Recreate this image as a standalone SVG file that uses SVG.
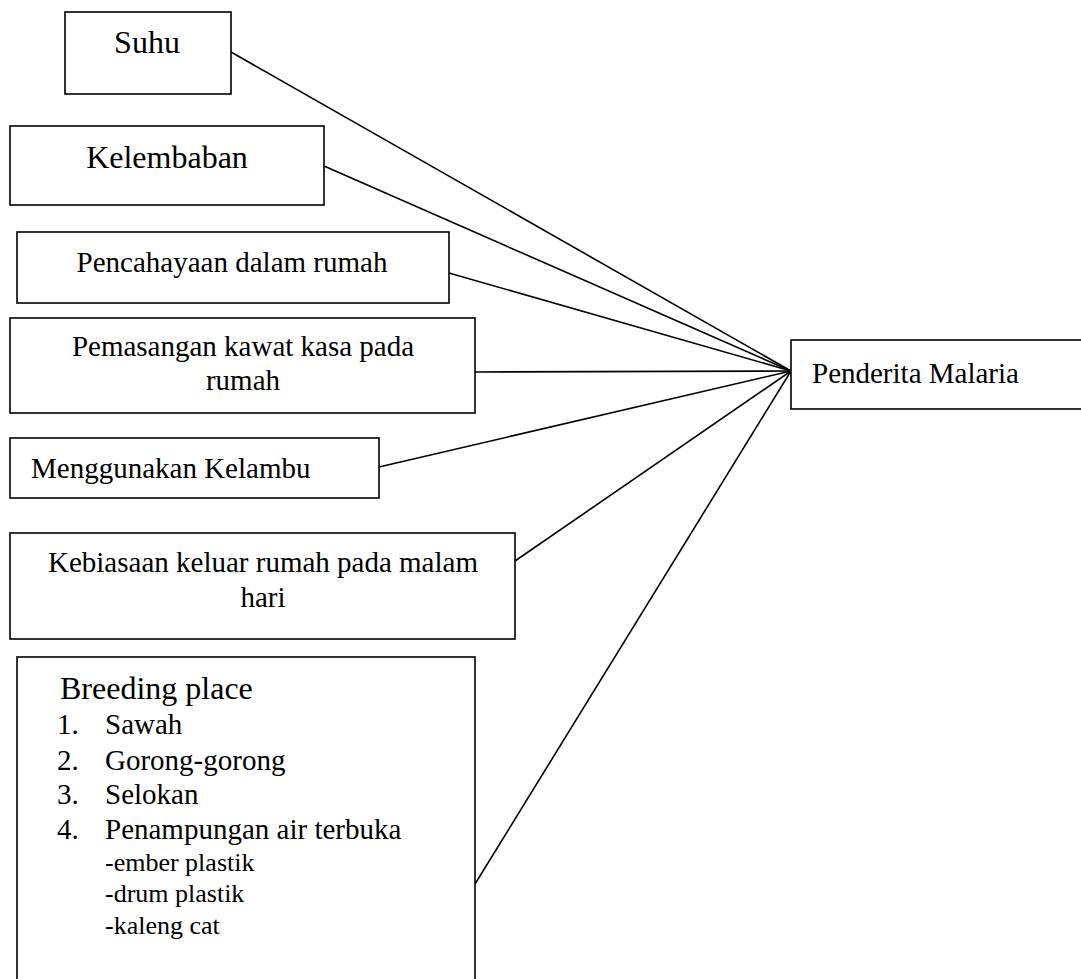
<svg xmlns="http://www.w3.org/2000/svg" width="1081" height="979" viewBox="0 0 1081 979">
<style>
.box{fill:#fff;stroke:#000;stroke-width:1.6}
.t{font-family:"Liberation Serif","Times New Roman",serif;font-size:29px;fill:#000}
.tl{font-family:"Liberation Serif","Times New Roman",serif;font-size:32px;fill:#000}
.ts{font-family:"Liberation Serif","Times New Roman",serif;font-size:26px;fill:#000}
.c{stroke:#000;stroke-width:1.6;fill:none}
</style>
<rect width="1081" height="979" fill="#fff"/>
<g id="connectors">
<line class="c" x1="231" y1="52" x2="791" y2="371"/>
<line class="c" x1="324" y1="166" x2="791" y2="371"/>
<line class="c" x1="449" y1="273" x2="791" y2="371"/>
<line class="c" x1="475" y1="372" x2="791" y2="371"/>
<line class="c" x1="379" y1="467" x2="791" y2="371"/>
<line class="c" x1="515" y1="561" x2="791" y2="371"/>
<line class="c" x1="475" y1="884" x2="791" y2="371"/>
</g>
<g id="suhu">
<rect class="box" x="65" y="12" width="166" height="82"/>
<text class="tl" x="147" y="53" text-anchor="middle">Suhu</text>
</g>
<g id="kelembaban">
<rect class="box" x="10" y="126" width="314" height="79"/>
<text class="tl" x="167" y="168" text-anchor="middle">Kelembaban</text>
</g>
<g id="pencahayaan">
<rect class="box" x="17" y="232" width="432" height="71"/>
<text class="t" x="232" y="272" text-anchor="middle">Pencahayaan dalam rumah</text>
</g>
<g id="pemasangan">
<rect class="box" x="10" y="318" width="465" height="95"/>
<text class="t" x="243" y="356" text-anchor="middle">Pemasangan kawat kasa pada</text>
<text class="t" x="243" y="390" text-anchor="middle">rumah</text>
</g>
<g id="kelambu">
<rect class="box" x="10" y="438" width="369" height="60"/>
<text class="t" x="31" y="478">Menggunakan Kelambu</text>
</g>
<g id="kebiasaan">
<rect class="box" x="10" y="533" width="505" height="106"/>
<text class="t" x="263" y="572" text-anchor="middle">Kebiasaan keluar rumah pada malam</text>
<text class="t" x="263" y="607" text-anchor="middle">hari</text>
</g>
<g id="breeding">
<rect class="box" x="17" y="657" width="458" height="340"/>
<text class="tl" x="60" y="699">Breeding place</text>
<text class="t" x="57" y="734">1.</text><text class="t" x="105" y="734">Sawah</text>
<text class="t" x="57" y="770">2.</text><text class="t" x="105" y="770">Gorong-gorong</text>
<text class="t" x="57" y="804">3.</text><text class="t" x="105" y="804">Selokan</text>
<text class="t" x="57" y="839">4.</text><text class="t" x="105" y="839">Penampungan air terbuka</text>
<text class="ts" x="105" y="871">-ember plastik</text>
<text class="ts" x="105" y="902">-drum plastik</text>
<text class="ts" x="105" y="934">-kaleng cat</text>
</g>
<g id="penderita">
<rect class="box" x="791" y="340" width="310" height="69"/>
<text class="t" x="812" y="383">Penderita Malaria</text>
</g>
</svg>
